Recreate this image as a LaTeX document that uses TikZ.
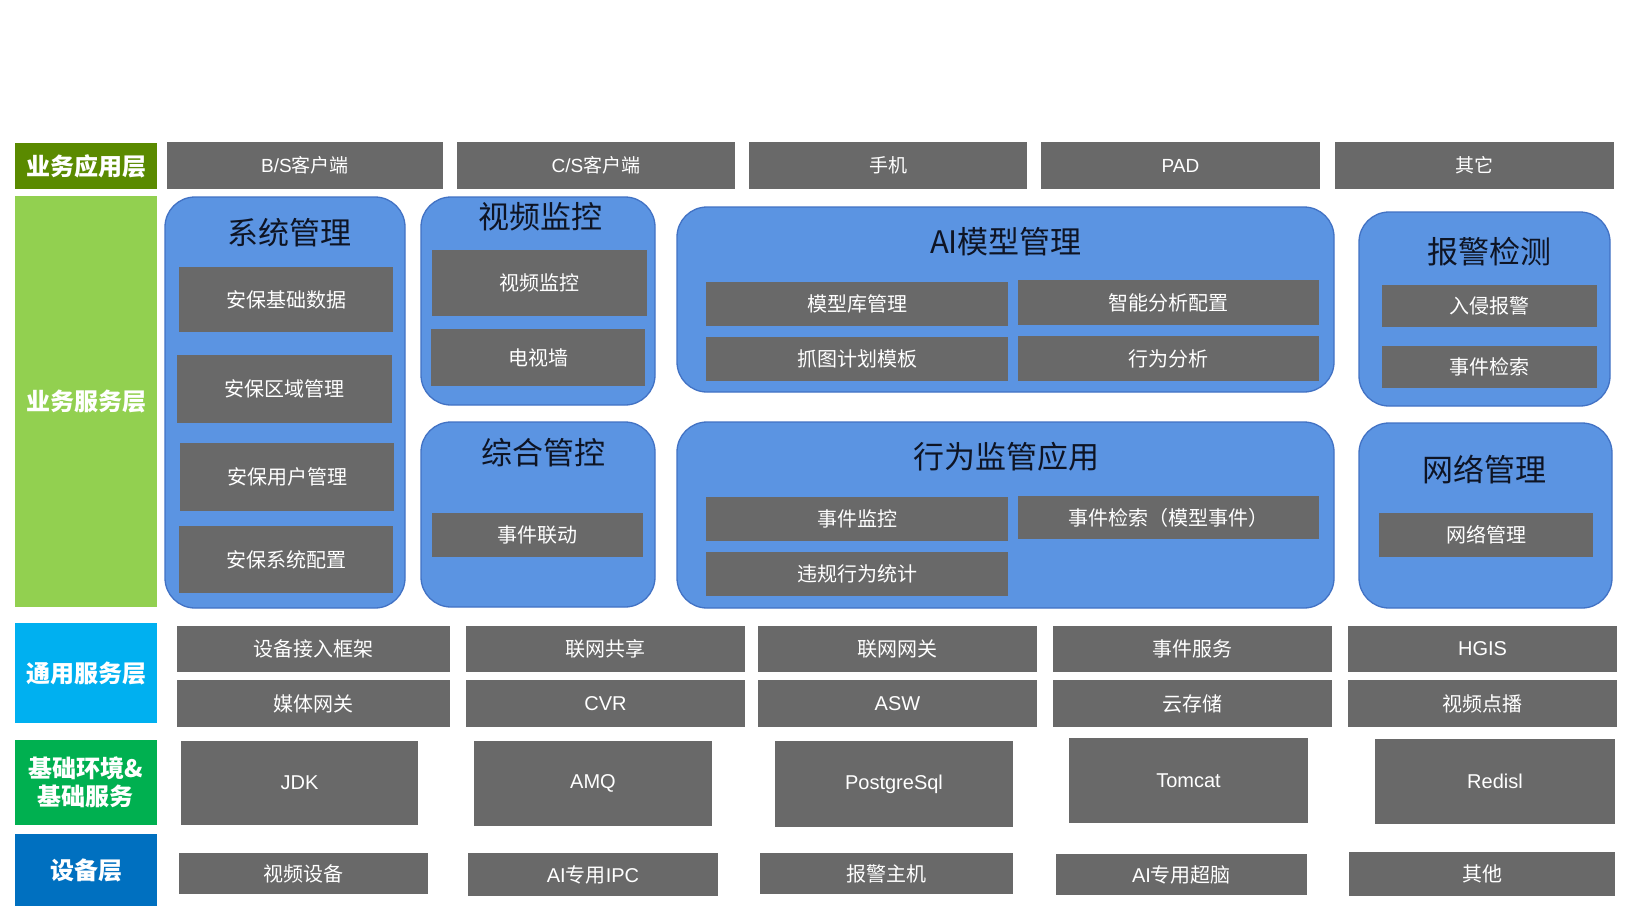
\documentclass[tikz,border=0pt]{standalone}
\usepackage{fontspec}
\setmainfont{Noto Sans CJK SC}
\newfontfamily\lat{Liberation Sans}
\definecolor{appgreen}{RGB}{90,138,0}
\definecolor{svcgreen}{RGB}{146,208,80}
\definecolor{comcyan}{RGB}{0,176,240}
\definecolor{basegreen}{RGB}{0,176,80}
\definecolor{devblue}{RGB}{0,112,192}
\definecolor{boxgray}{RGB}{105,105,105}
\definecolor{rbblue}{RGB}{91,148,226}
\definecolor{rbline}{RGB}{66,114,196}
\definecolor{titlec}{RGB}{14,20,36}
\newcommand\gbx[7][gb]{\node[#1,minimum width={(#5-#3)*1pt},minimum height={(#6-#4)*1pt}] (#2) at ({(#3+#5)/2},{(#4+#6)/2}) {#7};}
\begin{document}
\begin{tikzpicture}[x=1pt,y=-1pt,
  lab/.style={text=white,font=\bfseries\fontsize{24}{28}\selectfont,inner sep=0pt,align=center},
  gb/.style={fill=boxgray,text=white,font=\fontsize{20}{24}\selectfont,inner sep=0pt},
  tb/.style={gb,font=\fontsize{19}{22}\selectfont},
  rb/.style={fill=rbblue,draw=rbline,line width=1.3pt,rounded corners=30pt,inner sep=0pt},
  ttl/.style={text=titlec,font=\fontsize{31}{36}\selectfont,inner sep=0pt}]
\useasboundingbox[fill=white] (0,0) rectangle (1630,906);
% layer labels
\gbx[lab,fill=appgreen]{L1}{15}{143}{157}{189}{业务应用层}
\gbx[lab,fill=svcgreen]{L2}{15}{196}{157}{607}{业务服务层}
\gbx[lab,fill=comcyan]{L3}{15}{623}{157}{723}{通用服务层}
\gbx[lab,fill=basegreen]{L4}{15}{740}{157}{825}{基础环境\&\\基础服务}
\gbx[lab,fill=devblue]{L5}{15}{834}{157}{906}{设备层}
% top row
\gbx[tb]{t1}{167}{142}{443}{189}{{\lat B/S}客户端}
\gbx[tb]{t2}{457}{142}{735}{189}{{\lat C/S}客户端}
\gbx[tb]{t3}{749}{142}{1027}{189}{手机}
\gbx[tb]{t4}{1041}{142}{1320}{189}{\lat PAD}
\gbx[tb]{t5}{1335}{142}{1614}{189}{其它}
% rounded groups
\gbx[rb]{sys}{165}{197}{405}{608}{}
\gbx[rb]{vid}{421}{197}{655}{405}{}
\gbx[rb]{zh}{421}{422}{655}{607}{}
\gbx[rb]{ai}{677}{207}{1334}{392}{}
\gbx[rb]{xw}{677}{422}{1334}{608}{}
\gbx[rb]{bj}{1359}{212}{1610}{406}{}
\gbx[rb]{wl}{1359}{423}{1612}{608}{}
\node[ttl] (sysT) at (289,233) {系统管理};
\node[ttl] (vidT) at (540,217) {视频监控};
\node[ttl] (zhT) at (543,453) {综合管控};
\node[ttl] (aiT) at (1006,242) {AI模型管理};
\node[ttl] (xwT) at (1006,457) {行为监管应用};
\node[ttl] (bjT) at (1489,252) {报警检测};
\node[ttl] (wlT) at (1484,470) {网络管理};
% inner boxes
\gbx{s1}{179}{267}{393}{332}{安保基础数据}
\gbx{s2}{177}{355}{392}{423}{安保区域管理}
\gbx{s3}{180}{443}{394}{511}{安保用户管理}
\gbx{s4}{179}{526}{393}{593}{安保系统配置}
\gbx{v1}{432}{250}{647}{316}{视频监控}
\gbx{v2}{431}{329}{645}{386}{电视墙}
\gbx{z1}{432}{513}{643}{557}{事件联动}
\gbx{a1}{706}{282}{1008}{326}{模型库管理}
\gbx{a2}{1018}{280}{1319}{325}{智能分析配置}
\gbx{a3}{706}{337}{1008}{381}{抓图计划模板}
\gbx{a4}{1018}{336}{1319}{381}{行为分析}
\gbx{x1}{706}{497}{1008}{541}{事件监控}
\gbx{x2}{1018}{496}{1319}{539}{事件检索（模型事件）}
\gbx{x3}{706}{552}{1008}{596}{违规行为统计}
\gbx{b1}{1382}{285}{1597}{327}{入侵报警}
\gbx{b2}{1382}{346}{1597}{388}{事件检索}
\gbx{w1}{1379}{513}{1593}{557}{网络管理}
% common services
\gbx{g1}{177}{626}{450}{672}{设备接入框架}
\gbx{g2}{466}{626}{745}{672}{联网共享}
\gbx{g3}{758}{626}{1037}{672}{联网网关}
\gbx{g4}{1053}{626}{1332}{672}{事件服务}
\gbx{g5}{1348}{626}{1617}{672}{\lat HGIS}
\gbx{g6}{177}{680}{450}{727}{媒体网关}
\gbx{g7}{466}{680}{745}{727}{\lat CVR}
\gbx{g8}{758}{680}{1037}{727}{\lat ASW}
\gbx{g9}{1053}{680}{1332}{727}{云存储}
\gbx{g10}{1348}{680}{1617}{727}{视频点播}
% base
\gbx{e1}{181}{741}{418}{825}{\lat JDK}
\gbx{e2}{474}{741}{712}{826}{\lat AMQ}
\gbx{e3}{775}{741}{1013}{827}{\lat PostgreSql}
\gbx{e4}{1069}{738}{1308}{823}{\lat Tomcat}
\gbx{e5}{1375}{739}{1615}{824}{\lat Redisl}
% devices
\gbx{d1}{179}{853}{428}{894}{视频设备}
\gbx{d2}{468}{853}{718}{896}{{\lat AI}专用{\lat IPC}}
\gbx{d3}{760}{853}{1013}{894}{报警主机}
\gbx{d4}{1056}{854}{1307}{895}{{\lat AI}专用超脑}
\gbx{d5}{1349}{852}{1615}{896}{其他}
\end{tikzpicture}
\end{document}
